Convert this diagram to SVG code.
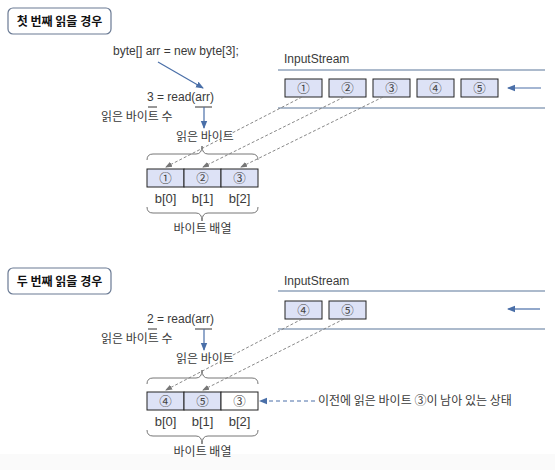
<svg xmlns="http://www.w3.org/2000/svg" width="555" height="470" viewBox="0 0 555 470">
<style>
.t{font-family:"Liberation Sans","Noto Sans CJK KR",sans-serif;font-size:12px;fill:#3a3a3a}
.b{font-family:"Liberation Sans",sans-serif;font-size:13px;fill:#3a3a3a;text-anchor:middle}
.k{font-family:"Noto Sans CJK KR","Liberation Sans",sans-serif;font-size:12px;fill:#3a3a3a}
.ttl{font-family:"Noto Sans CJK KR",sans-serif;font-size:12px;font-weight:bold;fill:#111}
.c{font-family:"Noto Sans CJK KR","DejaVu Sans",sans-serif;font-size:12.5px;fill:#444;text-anchor:middle}
.tb{fill:#fff;stroke:#6a7a94;stroke-width:1.2}
.cell{fill:#dde2f6;stroke:#222;stroke-width:1}
.cellw{fill:#fff;stroke:#222;stroke-width:1}
.sl{stroke:#5a7699;stroke-width:1.2;fill:none}
.ba{stroke:#4a6fa8;stroke-width:1.2;fill:none}
.dash{stroke:#7a7a7a;stroke-width:0.9;stroke-dasharray:3,2;fill:none}
.bdash{stroke:#4a6fa8;stroke-width:1;stroke-dasharray:4,3;fill:none}
.br{stroke:#666;stroke-width:0.9;fill:none}
.ul{stroke:#333;stroke-width:1}
</style>
<defs>
<marker id="ab" markerWidth="8" markerHeight="8" refX="7" refY="4" orient="auto" markerUnits="userSpaceOnUse"><path d="M0,0.8 L8,4 L0,7.2 Z" fill="#4a6fa8"/></marker>
<marker id="ag" markerWidth="7" markerHeight="7" refX="6" refY="3.5" orient="auto" markerUnits="userSpaceOnUse"><path d="M0,0.8 L7,3.5 L0,6.2 Z" fill="#777"/></marker>
</defs>
<rect x="0" y="0" width="555" height="470" fill="#fff"/>
<rect x="0" y="454" width="555" height="16" fill="#fafafa"/>

<!-- Section 1 -->
<g id="title1"><rect class="tb" x="8" y="8" width="103" height="26" rx="5"/><text class="ttl" x="59.5" y="26" text-anchor="middle">첫 번째 읽을 경우</text></g>
<g id="decl1"><text class="t" x="113" y="55">byte[] arr = new byte[3];</text></g>
<g id="read1"><text class="t" x="147" y="101">3 = read(arr)</text>
<line class="ul" x1="148" y1="107" x2="157" y2="107"/><line class="ul" x1="195" y1="107" x2="212" y2="107"/></g>
<g id="cnt1"><text class="k" x="101" y="121">읽은 바이트 수</text></g>
<g id="rb1"><text class="k" x="176" y="141">읽은 바이트</text></g>
<g id="stream1">
<text class="t" x="284" y="63">InputStream</text>
<line class="sl" x1="278" y1="70" x2="545" y2="70"/>
<line class="sl" x1="278" y1="108" x2="545" y2="108"/>
<rect class="cell" x="285" y="79" width="37" height="18"/><text class="c" x="303.5" y="93">①</text>
<rect class="cell" x="329" y="79" width="37" height="18"/><text class="c" x="347.5" y="93">②</text>
<rect class="cell" x="373" y="79" width="37" height="18"/><text class="c" x="391.5" y="93">③</text>
<rect class="cell" x="417" y="79" width="37" height="18"/><text class="c" x="435.5" y="93">④</text>
<rect class="cell" x="461" y="79" width="37" height="18"/><text class="c" x="479.5" y="93">⑤</text>
</g>
<g id="array1">
<path class="br" d="M147,160 Q147,154 153,154 L196,154 Q202,154 202,146 Q202,154 208,154 L252,154 Q258,154 258,160"/>
<rect class="cell" x="147" y="169" width="37" height="18"/><text class="c" x="165.5" y="183">①</text>
<rect class="cell" x="184" y="169" width="37" height="18"/><text class="c" x="202.5" y="183">②</text>
<rect class="cell" x="221" y="169" width="37" height="18"/><text class="c" x="239.5" y="183">③</text>
<text class="b" x="165.5" y="203">b[0]</text>
<text class="b" x="202.5" y="203">b[1]</text>
<text class="b" x="239.5" y="203">b[2]</text>
<path class="br" d="M147,207 Q147,213 153,213 L196,213 Q202,213 202,221 Q202,213 208,213 L252,213 Q258,213 258,207"/>
<text class="k" x="202.5" y="233" text-anchor="middle">바이트 배열</text>
</g>

<!-- Section 2 -->
<g id="title2"><rect class="tb" x="8" y="268" width="103" height="26" rx="5"/><text class="ttl" x="59.5" y="286" text-anchor="middle">두 번째 읽을 경우</text></g>
<g id="read2"><text class="t" x="147" y="323">2 = read(arr)</text>
<line class="ul" x1="148" y1="329" x2="157" y2="329"/><line class="ul" x1="195" y1="329" x2="212" y2="329"/></g>
<g id="cnt2"><text class="k" x="101" y="343">읽은 바이트 수</text></g>
<g id="rb2"><text class="k" x="176" y="363">읽은 바이트</text></g>
<g id="stream2">
<text class="t" x="284" y="285">InputStream</text>
<line class="sl" x1="278" y1="291" x2="545" y2="291"/>
<line class="sl" x1="278" y1="329" x2="545" y2="329"/>
<rect class="cell" x="285" y="301" width="37" height="18"/><text class="c" x="303.5" y="315">④</text>
<rect class="cell" x="329" y="301" width="37" height="18"/><text class="c" x="347.5" y="315">⑤</text>
</g>
<g id="array2">
<path class="br" d="M147,384 Q147,378 153,378 L196,378 Q202,378 202,370 Q202,378 208,378 L252,378 Q258,378 258,384"/>
<rect class="cell" x="147" y="392" width="37" height="18"/><text class="c" x="165.5" y="406">④</text>
<rect class="cell" x="184" y="392" width="37" height="18"/><text class="c" x="202.5" y="406">⑤</text>
<rect class="cellw" x="221" y="392" width="37" height="18"/><text class="c" x="239.5" y="406">③</text>
<text class="b" x="165.5" y="426">b[0]</text>
<text class="b" x="202.5" y="426">b[1]</text>
<text class="b" x="239.5" y="426">b[2]</text>
<path class="br" d="M147,430 Q147,436 153,436 L196,436 Q202,436 202,444 Q202,436 208,436 L252,436 Q258,436 258,430"/>
<text class="k" x="202.5" y="456" text-anchor="middle">바이트 배열</text>
</g>
<g id="note2"><text class="k" x="318" y="405">이전에 읽은 바이트 ③이 남아 있는 상태</text></g>

<g id="connectors">
<line class="ba" x1="158" y1="62" x2="203" y2="88" marker-end="url(#ab)"/>
<line class="ba" x1="204" y1="107" x2="204" y2="128" marker-end="url(#ab)"/>
<line class="ba" x1="541" y1="88" x2="508" y2="88" marker-end="url(#ab)"/>
<line class="dash" x1="302" y1="97" x2="166" y2="167" marker-end="url(#ag)"/>
<line class="dash" x1="344" y1="97" x2="203" y2="167" marker-end="url(#ag)"/>
<line class="dash" x1="383" y1="97" x2="241" y2="167" marker-end="url(#ag)"/>
<line class="ba" x1="204" y1="329" x2="204" y2="350" marker-end="url(#ab)"/>
<line class="ba" x1="540" y1="309" x2="508" y2="309" marker-end="url(#ab)"/>
<line class="dash" x1="302" y1="319" x2="166" y2="390" marker-end="url(#ag)"/>
<line class="dash" x1="344" y1="319" x2="203" y2="390" marker-end="url(#ag)"/>
<line class="bdash" x1="315" y1="401" x2="260" y2="401" marker-end="url(#ab)"/>
</g>
</svg>
